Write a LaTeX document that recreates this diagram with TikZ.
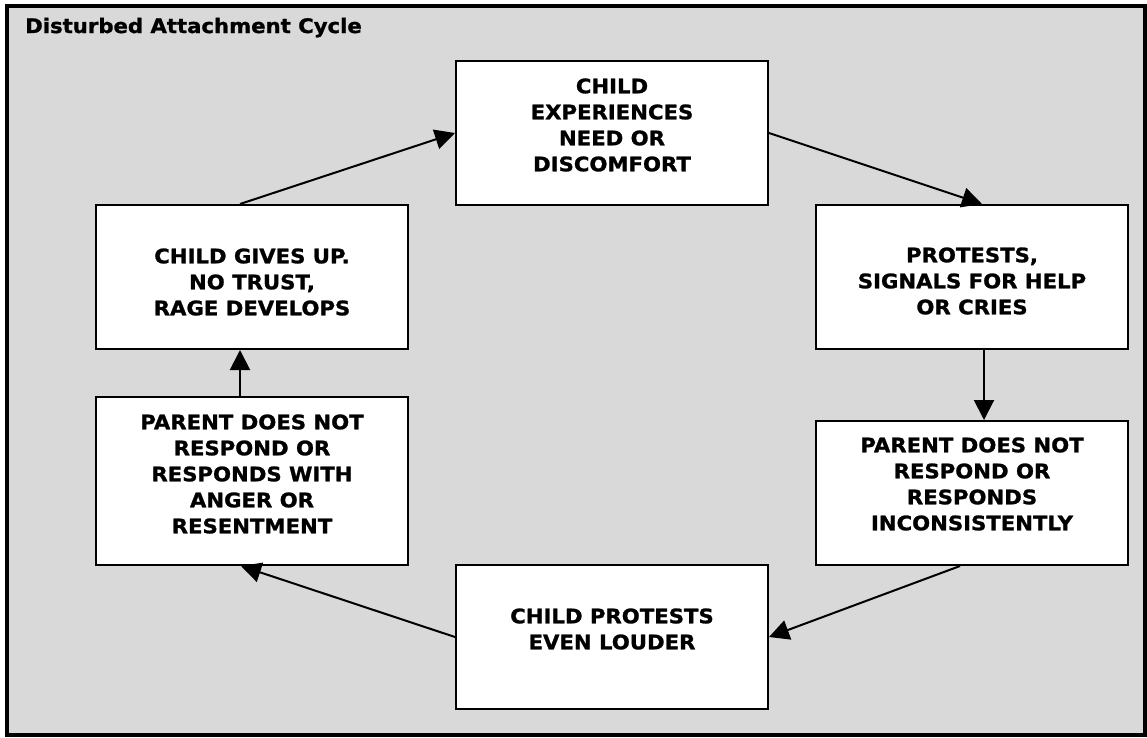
\documentclass[tikz,border=0pt]{standalone}
\usepackage{fontspec}
\setmainfont{DejaVu Sans}[FakeStretch=1.06, BoldFeatures={FakeBold=1.2}]
\usetikzlibrary{arrows.meta}
\definecolor{panel}{RGB}{217,217,217}

\begin{document}
\begin{tikzpicture}[x=1pt, y=-1pt,
    box/.style={
      draw,
      line width=2pt,
      fill=white,
      inner sep=0pt,
      minimum width=312pt,
      minimum height=144pt},
    txt/.style={
      align=center,
      inner sep=0pt,
      font=\fontsize{20}{26}\selectfont\bfseries},
    arr/.style={
      line width=2pt,
      -{Triangle[length=20pt,width=20pt]}}]
    \useasboundingbox (0,0) rectangle (1147,737);
    \draw [line width=4pt, fill=panel] (7,6) rectangle (1145,735);

    \node [anchor=base west, inner sep=0pt, font=\fontsize{20}{24}\selectfont\bfseries]
      (title) at (25,33) {Disturbed Attachment Cycle};

    \node [box] (need)    at (612,133) {};
    \node [box] (protest) at (972,277) {};
    \node [box] (parent)  at (972,493) {};
    \node [box] (louder)  at (612,637) {};
    \node [box, minimum height=168pt] (anger) at (252,481) {};
    \node [box] (giveup)  at (252,277) {};

    \node [txt, yshift=8]  (need-t)    at (need)    {CHILD\\EXPERIENCES\\NEED OR\\DISCOMFORT};
    \node [txt, yshift=-4] (protest-t) at (protest) {PROTESTS,\\SIGNALS FOR HELP\\OR CRIES};
    \node [txt, yshift=9]  (parent-t)  at (parent)  {PARENT DOES NOT\\RESPOND OR\\RESPONDS\\INCONSISTENTLY};
    \node [txt, yshift=8]  (louder-t)  at (louder)  {CHILD PROTESTS\\EVEN LOUDER};
    \node [txt, yshift=7]  (anger-t)   at (anger)   {PARENT DOES NOT\\RESPOND OR\\RESPONDS WITH\\ANGER OR\\RESENTMENT};
    \node [txt, yshift=-5] (giveup-t)  at (giveup)  {CHILD GIVES UP.\\NO TRUST,\\RAGE DEVELOPS};

    \draw [arr] ([xshift=-12]giveup.north) -- (need.west);
    \draw [arr] (need.east) -- ([xshift=10]protest.north);
    \draw [arr] ([xshift=12]protest.south) -- ([xshift=12]parent.north);
    \draw [arr] ([xshift=-12]parent.south) -- (louder.east);
    \draw [arr] (louder.west) -- ([xshift=-11]anger.south);
    \draw [arr] ([xshift=-12]anger.north) -- ([xshift=-12]giveup.south);
  \end{tikzpicture}
\end{document}
